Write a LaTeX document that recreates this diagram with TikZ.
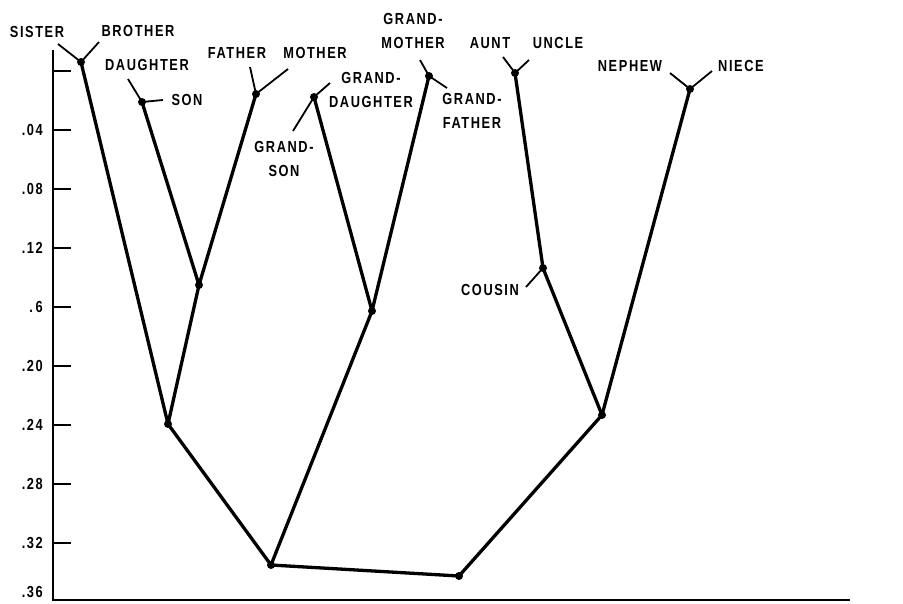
\documentclass[tikz,border=0pt]{standalone}
\usepackage{fontspec}
\setmainfont{Liberation Sans}[FakeStretch=0.8, LetterSpace=10]
\begin{document}
\begin{tikzpicture}[x=1pt,y=-1pt,
  edge/.style={line width=3.3pt, line cap=round},
  stub/.style={line width=1.8pt},
  axisline/.style={line width=2pt},
  dot/.style={circle, fill=black, inner sep=0pt, minimum size=8pt},
  lbl/.style={font=\fontsize{16}{24}\selectfont\bfseries, inner sep=0pt, align=center},
  ticklbl/.style={font=\fontsize{16}{18}\selectfont\bfseries, inner sep=0pt, anchor=east},
]
\useasboundingbox (0,0) rectangle (903,603);

% axis
\coordinate (axtop) at (53,50);
\coordinate (axorig) at (53,600);
\coordinate (axend) at (850,600);
\draw[axisline] (axtop) -- (axorig) -- (axend);
\foreach \yy/\tl [count=\i] in {71/, 130/.04, 189/.08, 248/.12, 307/.\,6, 366/.20, 425/.24, 484/.28, 543/.32} {
  \coordinate (tk\i) at (53,\yy);
  \coordinate (tke\i) at (71,\yy);
  \draw[axisline] (tk\i) -- (tke\i);
  \node[ticklbl] (tl\i) at (43,\yy) {\tl};
}
\node[ticklbl] (tl36) at (43,592) {.36};

% leaf junction dots
\node[dot] (sb) at (81,62) {};
\node[dot] (ds) at (142,102) {};
\node[dot] (fm) at (256,94) {};
\node[dot] (gd) at (314,97) {};
\node[dot] (gm) at (429,76) {};
\node[dot] (au) at (515,73) {};
\node[dot] (nn) at (690,89) {};
\node[dot] (cz) at (543,268) {};

% inner dots
\node[dot] (n1) at (199,285) {};
\node[dot] (n2) at (168,424) {};
\node[dot] (g1) at (372,311) {};
\node[dot] (lft) at (271,565) {};
\node[dot] (rgt) at (602,415) {};
\node[dot] (root) at (459,576) {};

% labels
\node[lbl] (lsister) at (37,32) {SISTER};
\node[lbl] (lbrother) at (138,31) {BROTHER};
\node[lbl] (ldaughter) at (147,65) {DAUGHTER};
\node[lbl] (lson) at (187,100) {SON};
\node[lbl] (lfather) at (237,53) {FATHER};
\node[lbl] (lmother) at (315,53) {MOTHER};
\node[lbl] (lgdau) at (371,90) {GRAND-\\DAUGHTER};
\node[lbl] (lgson) at (284,159) {GRAND-\\SON};
\node[lbl] (lgmot) at (413,31) {GRAND-\\MOTHER};
\node[lbl] (lgfat) at (472,111) {GRAND-\\FATHER};
\node[lbl] (launt) at (490,43) {AUNT};
\node[lbl] (luncle) at (558,43) {UNCLE};
\node[lbl] (lnephew) at (630,66) {NEPHEW};
\node[lbl] (lniece) at (741,66) {NIECE};
\node[lbl] (lcousin) at (490,290) {COUSIN};

% stub ends
\coordinate (esister) at (58,44);
\coordinate (ebrother) at (99,42);
\coordinate (edaughter) at (128,79);
\coordinate (eson) at (163,100);
\coordinate (efather) at (250,67);
\coordinate (emother) at (288,69);
\coordinate (egdau) at (330,83);
\coordinate (egson) at (293,131);
\coordinate (egmot) at (420,60);
\coordinate (egfat) at (447,88);
\coordinate (eaunt) at (503,57);
\coordinate (euncle) at (529,60);
\coordinate (enephew) at (670,73);
\coordinate (eniece) at (712,71);
\coordinate (ecousin) at (526,287);

% stubs
\draw[stub] (esister) -- (sb.center) -- (ebrother);
\draw[stub] (edaughter) -- (ds.center) -- (eson);
\draw[stub] (efather) -- (fm.center) -- (emother);
\draw[stub] (egson) -- (gd.center) -- (egdau);
\draw[stub] (egmot) -- (gm.center) -- (egfat);
\draw[stub] (eaunt) -- (au.center) -- (euncle);
\draw[stub] (enephew) -- (nn.center) -- (eniece);
\draw[stub] (ecousin) -- (cz.center);

% tree edges
\draw[edge] (sb.center) -- (n2.center);
\draw[edge] (ds.center) -- (n1.center);
\draw[edge] (fm.center) -- (n1.center);
\draw[edge] (n1.center) -- (n2.center);
\draw[edge] (n2.center) -- (lft.center);
\draw[edge] (gd.center) -- (g1.center);
\draw[edge] (gm.center) -- (g1.center);
\draw[edge] (g1.center) -- (lft.center);
\draw[edge] (lft.center) -- (root.center);
\draw[edge] (au.center) -- (cz.center);
\draw[edge] (cz.center) -- (rgt.center);
\draw[edge] (nn.center) -- (rgt.center);
\draw[edge] (rgt.center) -- (root.center);
\end{tikzpicture}
\end{document}
